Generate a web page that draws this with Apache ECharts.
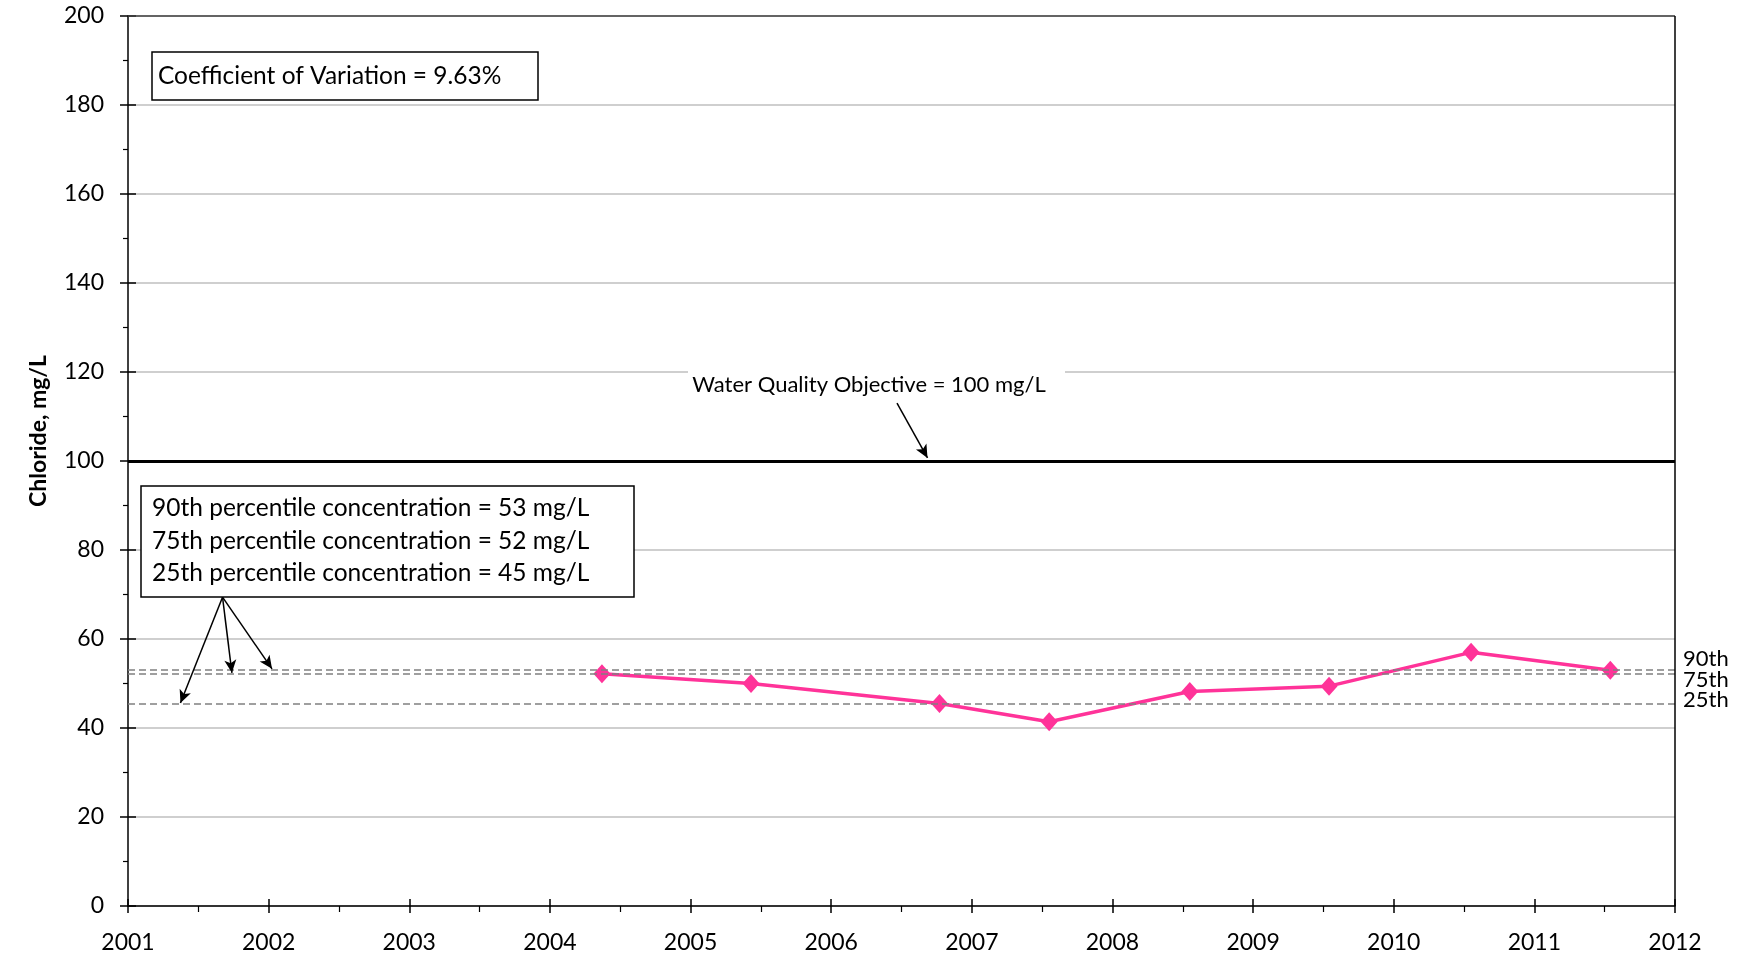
<!DOCTYPE html>
<html>
<head>
<meta charset="utf-8">
<script src="https://cdn.jsdelivr.net/npm/echarts@6/dist/echarts.min.js"></script>
<style>
  html, body { margin: 0; padding: 0; background: #fff; }
  #chart { width: 1744px; height: 956px; }
</style>
</head>
<body>
<div id="chart"></div>
<script>
// sample dates as decimal years, chloride in mg/L
const sampleYears = [2004.37, 2005.43, 2006.77, 2007.55, 2008.55, 2009.54, 2010.55, 2011.54];
const chloride = [52.2, 50.0, 45.5, 41.4, 48.2, 49.4, 57.0, 53.0];
const pctNames = ["90th", "75th", "25th"];
const pctValues = [53.0, 52.2, 45.4];
const pctRounded = [53, 52, 45];
const wqo = 100;
const covText = "9.63%";
const yearMin = 2001, yearMax = 2012;
const yMin = 0, yMax = 200;

const FONT = "Lato";
const dom = document.getElementById("chart");
const myChart = echarts.init(dom, null, { renderer: "canvas" });

const points = sampleYears.map((x, i) => [x, chloride[i]]);

// percentile box text
const pctLines = pctNames.map((n, i) => n + " percentile concentration = " + pctRounded[i] + " mg/L").join("\n");

const arrowStyle = { color: "#000", width: 1.5, type: "solid" };

const option = {
  animation: false,
  grid: { left: 128, top: 16, right: 69, bottom: 50 },
  xAxis: [
    {
      type: "value", min: yearMin, max: yearMax, interval: 1,
      axisLine: { lineStyle: { color: "#000", width: 1.5 } },
      axisTick: { length: 7, lineStyle: { color: "#000", width: 1.5 } },
      minorTick: { show: true, splitNumber: 2, length: 6, lineStyle: { color: "#000", width: 1.2 } },
      splitLine: { show: false },
      axisLabel: { formatter: v => String(v), color: "#000", fontFamily: FONT, fontSize: 23, margin: 25 }
    },
    {
      // inner half of the crossing major ticks
      type: "value", min: yearMin, max: yearMax, interval: 1, position: "bottom",
      axisLine: { show: false },
      axisTick: { inside: true, length: 7, lineStyle: { color: "#000", width: 1.5 } },
      axisLabel: { show: false }, splitLine: { show: false }
    }
  ],
  yAxis: [
    {
      type: "value", min: yMin, max: yMax, interval: 20,
      axisLine: { show: true, lineStyle: { color: "#000", width: 1.5 } },
      axisTick: { length: 8, lineStyle: { color: "#000", width: 1.5 } },
      minorTick: { show: true, splitNumber: 2, length: 5, lineStyle: { color: "#000", width: 1.2 } },
      splitLine: { lineStyle: { color: "#bfbfbf", width: 1.5 } },
      axisLabel: { color: "#000", fontFamily: FONT, fontSize: 23, margin: 24 }
    },
    {
      type: "value", min: yMin, max: yMax, interval: 20, position: "left",
      axisLine: { show: false },
      axisTick: { inside: true, length: 8, lineStyle: { color: "#000", width: 1.5 } },
      axisLabel: { show: false }, splitLine: { show: false }
    }
  ],
  graphic: [
    {
      // y axis title
      type: "text", z: 101, x: 39, y: 431, rotation: Math.PI / 2,
      style: { text: "Chloride, mg/L", fontFamily: FONT, fontWeight: "bold", fontSize: 23, fill: "#000", align: "center", verticalAlign: "middle" }
    },
    {
      type: "rect", z: 100, shape: { x: 152, y: 52, width: 386, height: 48 },
      style: { fill: "#fff", stroke: "#000", lineWidth: 1.5 }
    },
    {
      type: "text", z: 101, x: 158, y: 76,
      style: { text: "Coefficient of Variation = " + covText, fontFamily: FONT, fontSize: 24.5, fill: "#000", verticalAlign: "middle" }
    },
    {
      type: "rect", z: 100, shape: { x: 141, y: 486, width: 493, height: 111 },
      style: { fill: "#fff", stroke: "#000", lineWidth: 1.5 }
    },
    {
      type: "text", z: 101, x: 152, y: 492,
      style: { text: pctLines, fontFamily: FONT, fontSize: 24.5, lineHeight: 32.5, fill: "#000" }
    },
    {
      type: "rect", z: 100, shape: { x: 688, y: 364, width: 377, height: 38 },
      style: { fill: "#fff" }
    },
    {
      type: "text", z: 101, x: 869, y: 385,
      style: { text: "Water Quality Objective = " + wqo + " mg/L", fontFamily: FONT, fontSize: 22, fill: "#000", align: "center", verticalAlign: "middle" }
    },
    {
      type: "text", z: 101, x: 1683, y: 649,
      style: { text: pctNames.join("\n"), fontFamily: FONT, fontSize: 22, lineHeight: 20.5, fill: "#000" }
    }
  ],
  series: [
    {
      // reference lines and annotation arrows
      type: "line", data: [], z: 1,
      markLine: {
        silent: true, symbol: "none", animation: false,
        label: { show: false },
        data: [
          ...pctValues.map(v => ({ yAxis: v, lineStyle: { color: "#808080", width: 1.5, type: [7, 4] } })),
          { yAxis: wqo, lineStyle: { color: "#000", width: 3, type: "solid" } },
          { yAxis: yMax, lineStyle: { color: "#404040", width: 1.5, type: "solid" } },
          { xAxis: yearMax, lineStyle: { color: "#000", width: 1.5, type: "solid" } },
          [
            { coord: [2006.468, 113.0], symbol: "none", lineStyle: arrowStyle },
            { coord: [2006.685, 100.7], symbol: "arrow", symbolSize: [9, 13] }
          ],
          [
            { coord: [2001.672, 69.4], symbol: "none", lineStyle: arrowStyle },
            { coord: [2001.373, 45.6], symbol: "arrow", symbolSize: [9, 13] }
          ],
          [
            { coord: [2001.672, 69.4], symbol: "none", lineStyle: arrowStyle },
            { coord: [2001.739, 52.4], symbol: "arrow", symbolSize: [9, 13] }
          ],
          [
            { coord: [2001.672, 69.4], symbol: "none", lineStyle: arrowStyle },
            { coord: [2002.024, 53.3], symbol: "arrow", symbolSize: [9, 13] }
          ]
        ]
      }
    },
    {
      name: "Chloride",
      type: "line", z: 3,
      data: points,
      symbol: "diamond", symbolSize: [17, 19],
      itemStyle: { color: "#ff3399" },
      lineStyle: { color: "#ff3399", width: 3.5 }
    }
  ]
};

myChart.setOption(option);
</script>
</body>
</html>
